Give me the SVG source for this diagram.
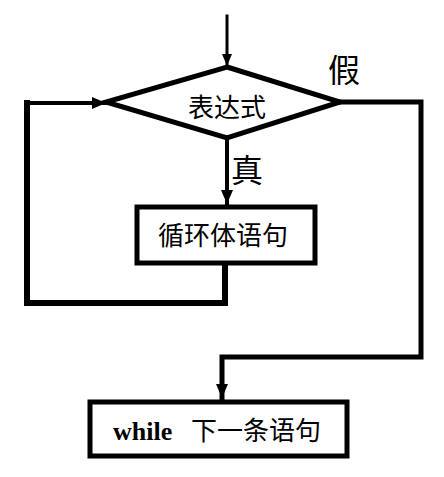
<svg xmlns="http://www.w3.org/2000/svg" width="444" height="477" viewBox="0 0 444 477">
<defs>
<style>
.ln{fill:none;stroke:#000;stroke-linejoin:miter;stroke-linecap:square}
.bx{fill:#fff;stroke:#000;stroke-width:5}
.t{font-family:"Liberation Serif","Noto Sans CJK SC",serif;fill:#000}
</style>
<marker id="ah" viewBox="0 0 12 12" refX="12" refY="6" markerWidth="12" markerHeight="12" markerUnits="userSpaceOnUse" orient="auto">
<path d="M0,1 L12,6 L0,11 Z" fill="#000"/>
</marker>
<marker id="ah2" viewBox="0 0 14 14" refX="14" refY="7" markerWidth="14" markerHeight="14" markerUnits="userSpaceOnUse" orient="auto">
<path d="M0,1 L14,7 L0,13 Z" fill="#000"/>
</marker>
</defs>
<rect width="444" height="477" fill="#fff"/>
<g id="connectors">
<path class="ln" d="M227,16 L227,66" stroke-width="3" marker-end="url(#ah)"/>
<path class="ln" d="M227,139 L227,204" stroke-width="4" marker-end="url(#ah2)"/>
<path class="ln" d="M225,265 L225,303 L27,303 L27,103" stroke-width="6"/>
<path class="ln" d="M27,103 L106,103" stroke-width="4" marker-end="url(#ah2)"/>
<path class="ln" d="M340,102 L421,102 L421,357 L222,357 L222,398" stroke-width="5" marker-end="url(#ah2)"/>
</g>
<g id="decision">
<path d="M227,67 L340,102 L227,138 L106,102 Z" fill="#fff" stroke="#000" stroke-width="5" stroke-linejoin="miter"/>
<text class="t" x="227" y="117" font-size="26" text-anchor="middle">表达式</text>
</g>
<g id="body">
<rect class="bx" x="137" y="207" width="178" height="56"/>
<text class="t" x="223" y="245" font-size="26" text-anchor="middle">循环体语句</text>
</g>
<g id="next">
<rect class="bx" x="90" y="402" width="257" height="54"/>
<text class="t" x="113" y="440" font-size="26"><tspan font-weight="bold">while</tspan><tspan x="191">下一条语句</tspan></text>
</g>
<g id="labels">
<text class="t" x="247" y="182" font-size="32" text-anchor="middle">真</text>
<text class="t" x="344" y="82" font-size="32" text-anchor="middle">假</text>
</g>
</svg>
